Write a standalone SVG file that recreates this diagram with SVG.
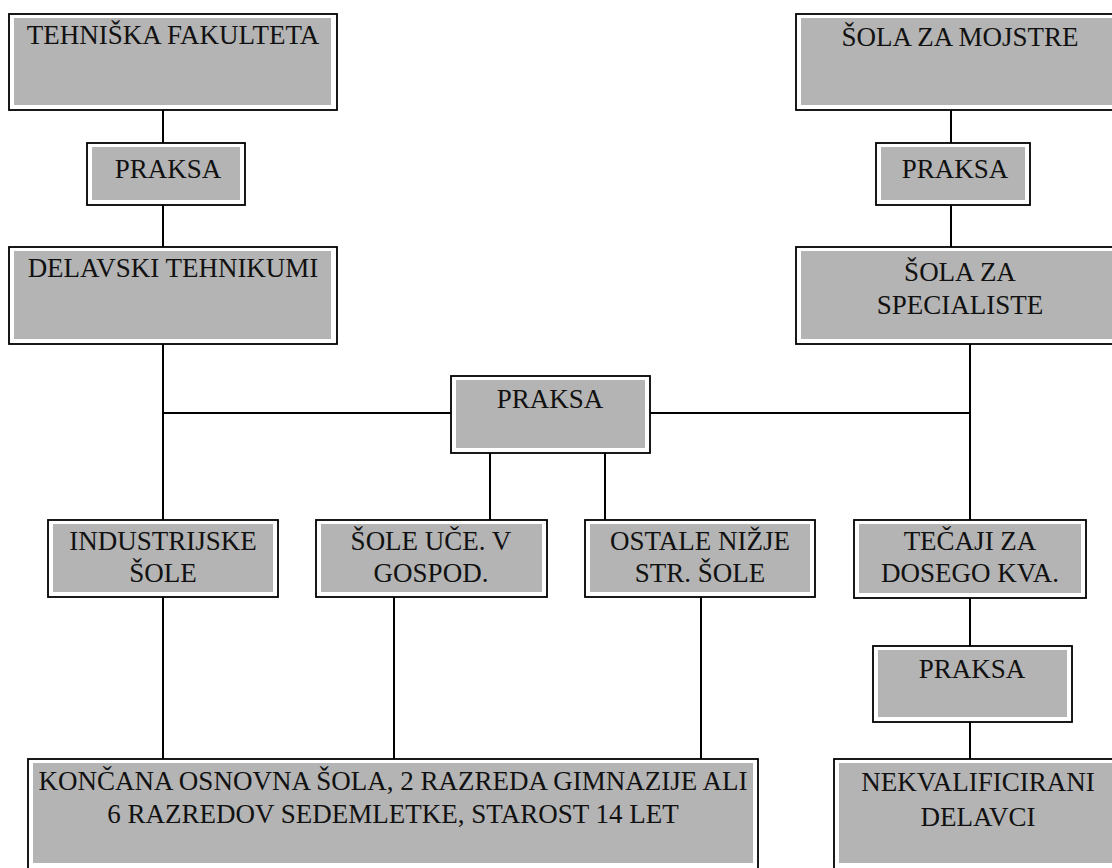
<svg xmlns="http://www.w3.org/2000/svg" width="1112" height="868" viewBox="0 0 1112 868">
<style>
.o{fill:#fff;stroke:#000;stroke-width:1.8}
.i{fill:#b4b4b4}
.t{font-family:'Liberation Serif','Times New Roman','DejaVu Serif',serif;font-size:27px;fill:#111;text-anchor:middle}
.c{stroke:#000;stroke-width:2;fill:none}
</style>
<rect width="1112" height="868" fill="#fff"/>
<g id="connectors">
<path class="c" d="M163 110V143M163 205V247M163 344V520M163 597V759"/>
<path class="c" d="M951 110V143M951 205V247"/>
<path class="c" d="M970 344V520M970 598V646M970 722V759"/>
<path class="c" d="M163 413H451M650 413H970"/>
<path class="c" d="M490 453V520M605 453V520"/>
<path class="c" d="M394 597V759M701 597V759"/>
</g>
<g id="n1"><rect class="o" x="9" y="14" width="328" height="96"/><rect class="i" x="14" y="18" width="317" height="87"/><text class="t" x="173" y="44">TEHNIŠKA FAKULTETA</text></g>
<g id="n2"><rect class="o" x="87" y="143" width="158" height="62"/><rect class="i" x="92" y="147" width="148" height="53"/><text class="t" x="168" y="178">PRAKSA</text></g>
<g id="n3"><rect class="o" x="9" y="247" width="328" height="97"/><rect class="i" x="14" y="251" width="317" height="88"/><text class="t" x="173" y="277">DELAVSKI TEHNIKUMI</text></g>
<g id="n4"><rect class="o" x="796" y="14" width="330" height="96"/><rect class="i" x="801" y="18" width="320" height="87"/><text class="t" x="960" y="46">ŠOLA ZA MOJSTRE</text></g>
<g id="n5"><rect class="o" x="876" y="143" width="154" height="62"/><rect class="i" x="881" y="147" width="144" height="53"/><text class="t" x="955" y="178">PRAKSA</text></g>
<g id="n6"><rect class="o" x="796" y="247" width="330" height="97"/><rect class="i" x="801" y="251" width="320" height="88"/><text class="t" x="960" y="281">ŠOLA ZA</text><text class="t" x="960" y="314">SPECIALISTE</text></g>
<g id="n7"><rect class="o" x="451" y="376" width="199" height="77"/><rect class="i" x="456" y="380" width="189" height="68"/><text class="t" x="550" y="408">PRAKSA</text></g>
<g id="n8"><rect class="o" x="48" y="520" width="230" height="77"/><rect class="i" x="53" y="524" width="220" height="68"/><text class="t" x="163" y="550">INDUSTRIJSKE</text><text class="t" x="163" y="582">ŠOLE</text></g>
<g id="n9"><rect class="o" x="316" y="520" width="231" height="77"/><rect class="i" x="321" y="524" width="221" height="68"/><text class="t" x="431" y="550">ŠOLE UČE. V</text><text class="t" x="431" y="582">GOSPOD.</text></g>
<g id="n10"><rect class="o" x="585" y="520" width="230" height="77"/><rect class="i" x="590" y="524" width="220" height="68"/><text class="t" x="700" y="550">OSTALE NIŽJE</text><text class="t" x="700" y="582">STR. ŠOLE</text></g>
<g id="n11"><rect class="o" x="854" y="520" width="232" height="78"/><rect class="i" x="859" y="524" width="222" height="69"/><text class="t" x="970" y="550">TEČAJI ZA</text><text class="t" x="970" y="582">DOSEGO KVA.</text></g>
<g id="n12"><rect class="o" x="873" y="646" width="199" height="76"/><rect class="i" x="878" y="650" width="189" height="67"/><text class="t" x="972" y="678">PRAKSA</text></g>
<g id="n13"><rect class="o" x="28" y="759" width="730" height="115"/><rect class="i" x="33" y="763" width="720" height="100"/><text class="t" x="393" y="790">KONČANA OSNOVNA ŠOLA, 2 RAZREDA GIMNAZIJE ALI</text><text class="t" x="393" y="823">6 RAZREDOV SEDEMLETKE, STAROST 14 LET</text></g>
<g id="n14"><rect class="o" x="834" y="759" width="290" height="115"/><rect class="i" x="839" y="763" width="280" height="100"/><text class="t" x="978" y="791">NEKVALIFICIRANI</text><text class="t" x="978" y="826">DELAVCI</text></g>
</svg>
